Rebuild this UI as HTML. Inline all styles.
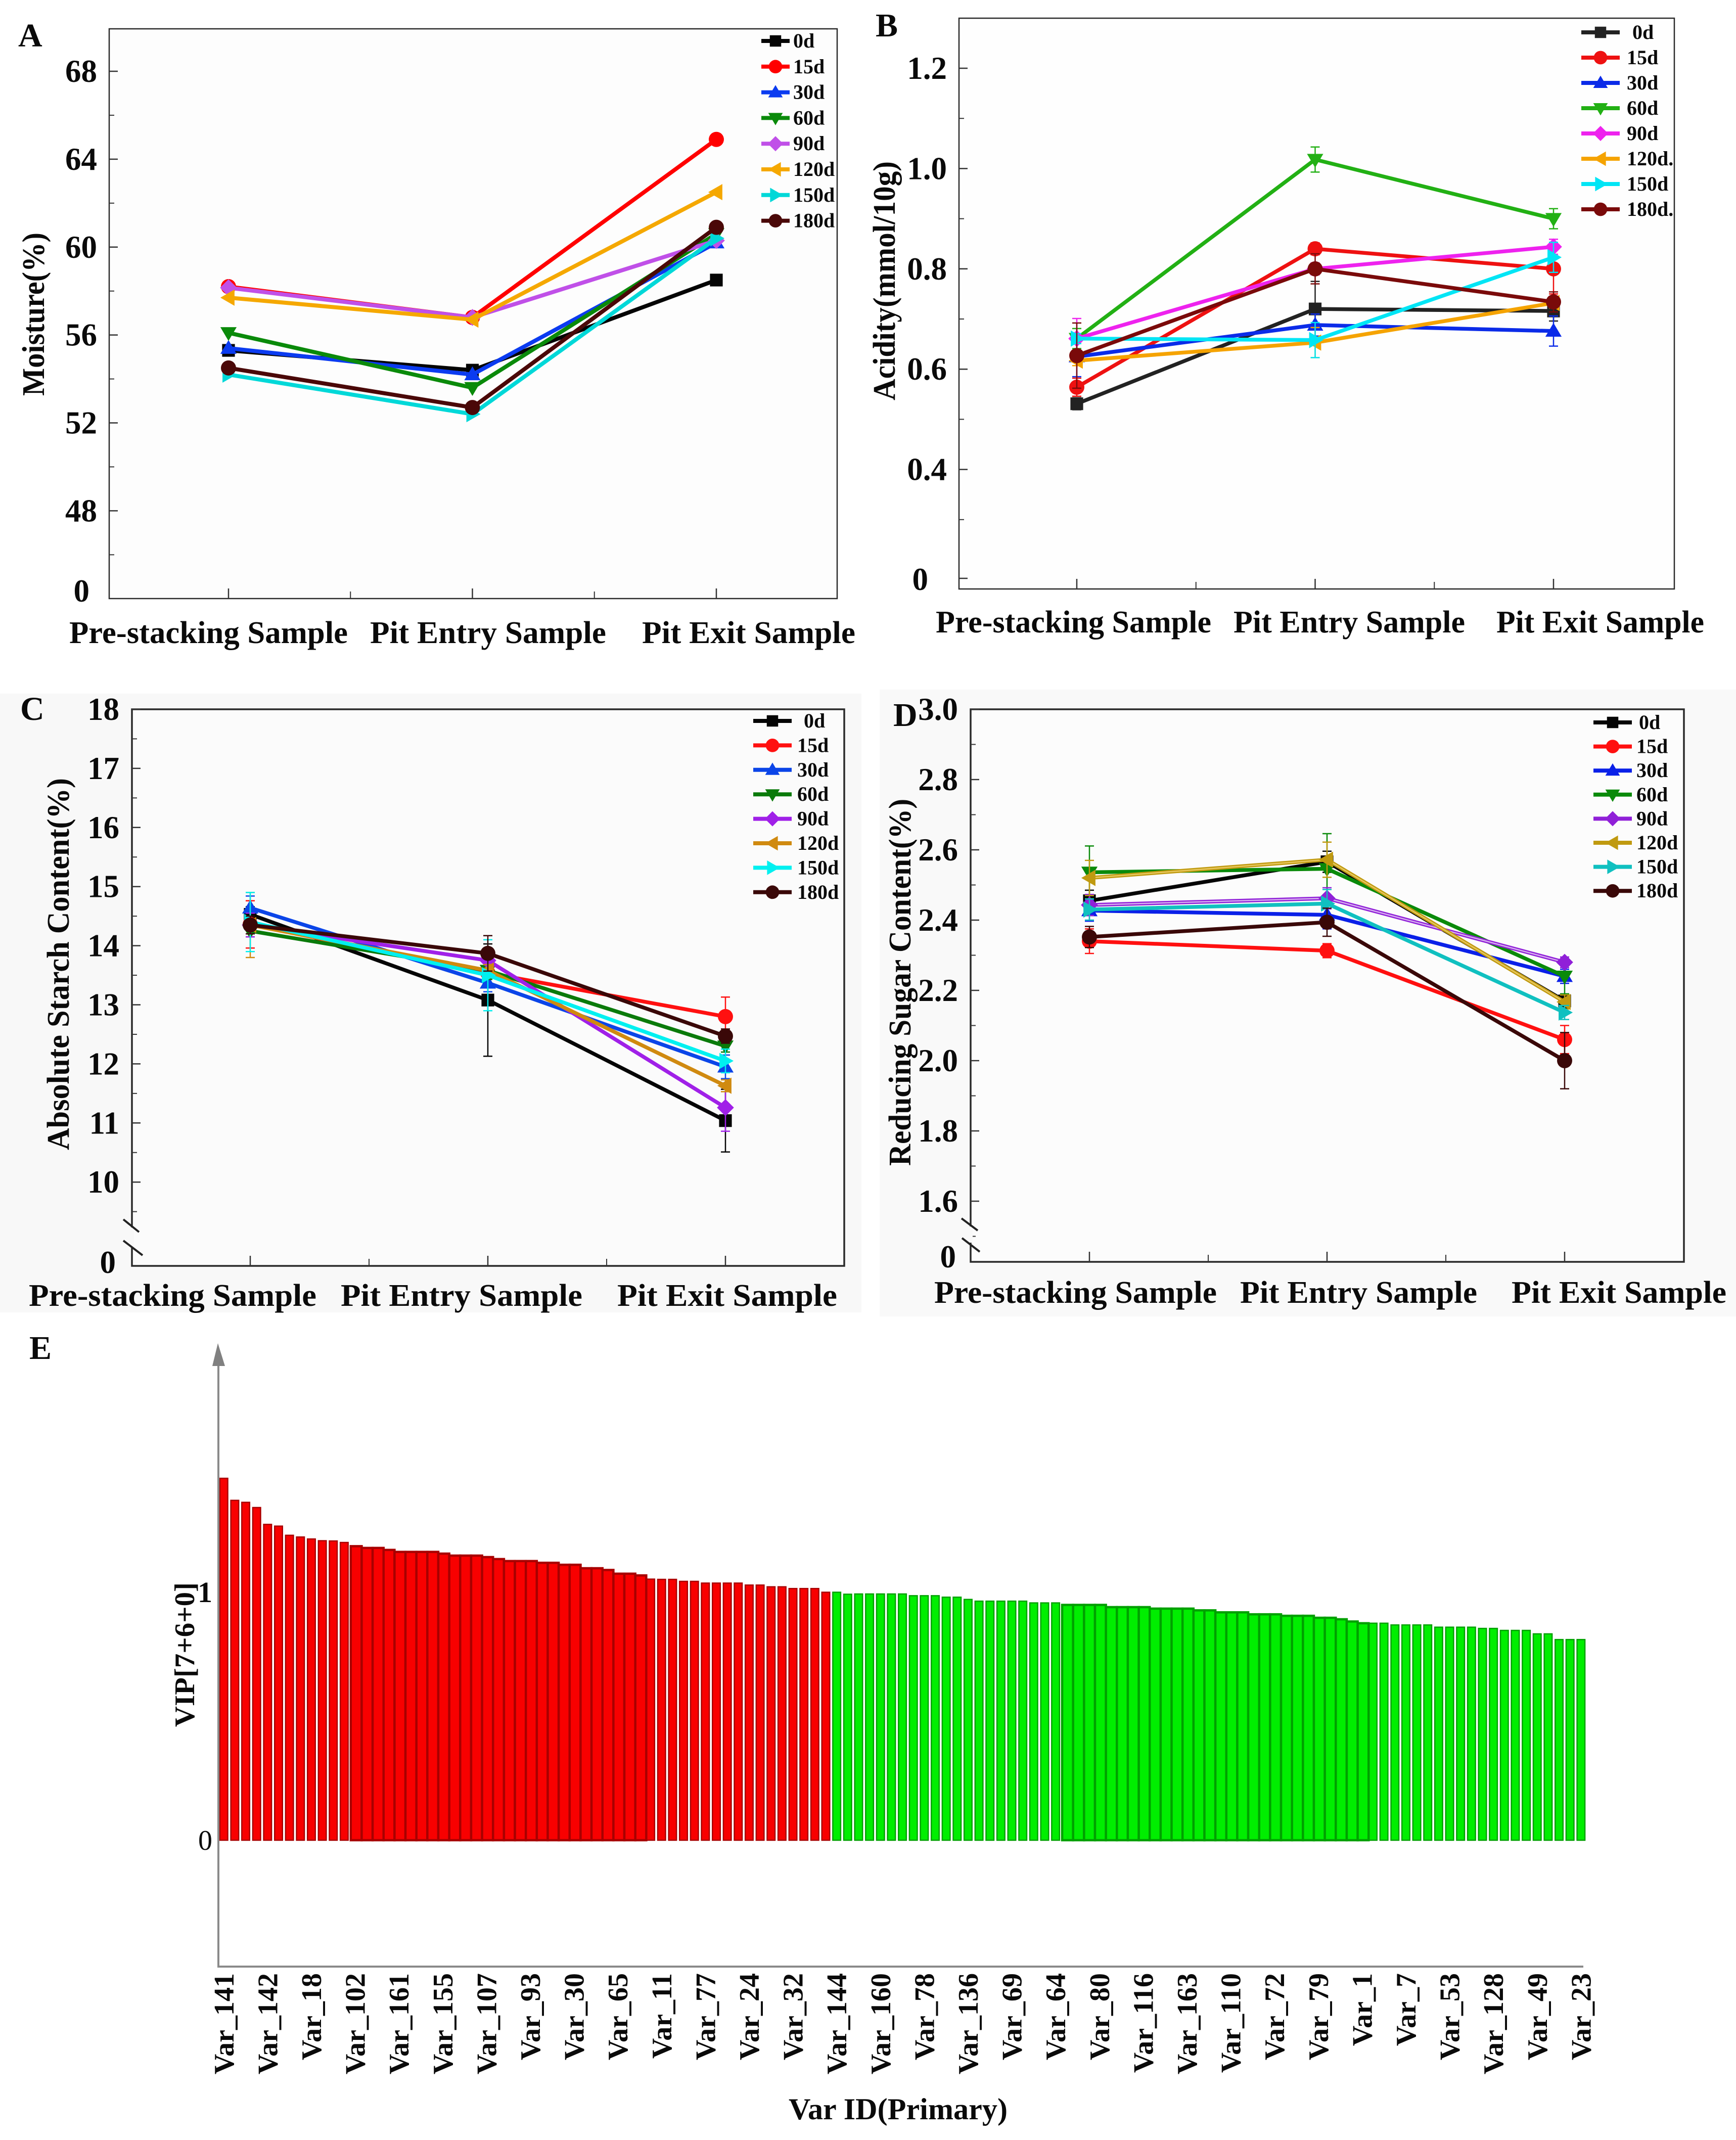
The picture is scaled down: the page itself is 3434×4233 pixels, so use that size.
<!DOCTYPE html>
<html lang="en">
<head>
<meta charset="utf-8">
<title>Fermentation physicochemical indicators and VIP chart</title>
<style>
html,body{margin:0;padding:0;background:#fff;}
svg{display:block;}
text{font-family:"Liberation Serif","DejaVu Serif",serif;font-weight:bold;fill:#0a0a0a;}
</style>
</head>
<body>
<svg id="figure" xmlns="http://www.w3.org/2000/svg" width="3434" height="4233" viewBox="0 0 3434 4233"></svg>
<script>
const categories = ["Pre-stacking Sample", "Pit Entry Sample", "Pit Exit Sample"];
const dayLabels = ["0d", "15d", "30d", "60d", "90d", "120d", "150d", "180d"];
const dayLabelsB = ["0d", "15d", "30d", "60d", "90d", "120d.", "150d", "180d."];

const moistureTicks = [48, 52, 56, 60, 64, 68];
const moistureTickLabels = ["48", "52", "56", "60", "64", "68"];
const moistureValues = [
  [55.3, 54.4, 58.5],
  [58.2, 56.8, 64.9],
  [55.4, 54.2, 60.2],
  [56.1, 53.6, 60.6],
  [58.15, 56.8, 60.3],
  [57.7, 56.7, 62.5],
  [54.2, 52.4, 60.4],
  [54.5, 52.7, 60.9]
];

const acidityTicks = [0.4, 0.6, 0.8, 1.0, 1.2];
const acidityTickLabels = ["0.4", "0.6", "0.8", "1.0", "1.2"];
const acidityValues = [
  [0.531, 0.72, 0.716],
  [0.564, 0.84, 0.80],
  [0.625, 0.688, 0.676],
  [0.661, 1.018, 0.90],
  [0.661, 0.80, 0.844],
  [0.617, 0.653, 0.732],
  [0.661, 0.658, 0.823],
  [0.627, 0.80, 0.734]
];
const acidityErrors = [
  [0.012, 0.055, 0.02],
  [0.018, 0.012, 0.05],
  [0.04, 0.022, 0.03],
  [0.02, 0.025, 0.02],
  [0.04, 0.012, 0.015],
  [0.01, 0.03, 0.01],
  [0.01, 0.035, 0.03],
  [0.065, 0.03, 0.02]
];

const starchTicks = [10, 11, 12, 13, 14, 15, 16, 17, 18];
const starchTickLabels = ["10", "11", "12", "13", "14", "15", "16", "17", "18"];
const starchValues = [
  [14.53, 13.08, 11.04],
  [14.36, 13.54, 12.8],
  [14.64, 13.37, 11.95],
  [14.25, 13.58, 12.3],
  [14.35, 13.75, 11.26],
  [14.35, 13.58, 11.63],
  [14.4, 13.5, 12.05],
  [14.35, 13.87, 12.47]
];
const starchErrors = [
  [0.13, 0.95, 0.53],
  [0.4, 0.1, 0.33],
  [0.2, 0.15, 0.2],
  [0.1, 0.15, 0.1],
  [0.2, 0.15, 0.4],
  [0.55, 0.1, 0.1],
  [0.5, 0.6, 0.2],
  [0.15, 0.3, 0.12]
];

const sugarTicks = [1.6, 1.8, 2.0, 2.2, 2.4, 2.6, 2.8, 3.0];
const sugarTickLabels = ["1.6", "1.8", "2.0", "2.2", "2.4", "2.6", "2.8", "3.0"];
const sugarValues = [
  [2.455, 2.566, 2.17],
  [2.34, 2.313, 2.06],
  [2.427, 2.415, 2.24],
  [2.536, 2.546, 2.24],
  [2.443, 2.462, 2.28],
  [2.52, 2.572, 2.167],
  [2.43, 2.447, 2.137],
  [2.352, 2.394, 2.0]
];
const sugarErrors = [
  [0.03, 0.03, 0.02],
  [0.035, 0.02, 0.04],
  [0.03, 0.04, 0.02],
  [0.075, 0.1, 0.05],
  [0.03, 0.03, 0.015],
  [0.05, 0.05, 0.02],
  [0.03, 0.04, 0.02],
  [0.03, 0.04, 0.08]
];

const vipValues = [
  1.464, 1.375, 1.367, 1.346, 1.278, 1.271, 1.234, 1.227, 1.219, 1.212, 1.211, 1.205, 1.19, 1.183, 1.183, 1.175,
  1.167, 1.167, 1.167, 1.167, 1.16, 1.152, 1.152, 1.152, 1.146, 1.138, 1.13, 1.13, 1.13, 1.123, 1.123, 1.115,
  1.115, 1.101, 1.101, 1.094, 1.079, 1.079, 1.072, 1.057, 1.056, 1.056, 1.048, 1.048, 1.041, 1.041, 1.041, 1.041,
  1.033, 1.033, 1.026, 1.026, 1.019, 1.019, 1.019, 1.004,
  1.004, 0.996, 0.997, 0.997, 0.997, 0.997, 0.997, 0.99, 0.99, 0.99, 0.984, 0.984, 0.975, 0.968, 0.968, 0.968,
  0.968, 0.968, 0.961, 0.961, 0.961, 0.953, 0.953, 0.953, 0.953, 0.944, 0.944, 0.944, 0.944, 0.938, 0.938, 0.938,
  0.938, 0.931, 0.931, 0.923, 0.923, 0.923, 0.915, 0.915, 0.915, 0.909, 0.909, 0.909, 0.901, 0.901, 0.895, 0.886,
  0.879, 0.879, 0.879, 0.872, 0.872, 0.872, 0.872, 0.863, 0.863, 0.863, 0.863, 0.858, 0.858, 0.85, 0.85, 0.85,
  0.836, 0.836, 0.813, 0.813, 0.813
];
const vipLabels = ["Var_141", "Var_142", "Var_18", "Var_102", "Var_161", "Var_155", "Var_107", "Var_93", "Var_30", "Var_65", "Var_11", "Var_77", "Var_24", "Var_32", "Var_144", "Var_160", "Var_78", "Var_136", "Var_69", "Var_64", "Var_80", "Var_116", "Var_163", "Var_110", "Var_72", "Var_79", "Var_1", "Var_7", "Var_53", "Var_128", "Var_49", "Var_23"];
const vipAboveOneCount = 56;

const SVG_NS = "http://www.w3.org/2000/svg";
const root = document.getElementById("figure");
const markerShapes = ["square", "circle", "up", "down", "diamond", "left", "right", "circle"];

function mk(parent, tag, attrs, text) {
  const node = document.createElementNS(SVG_NS, tag);
  for (const key in attrs) node.setAttribute(key, attrs[key]);
  if (text !== undefined) node.textContent = text;
  parent.appendChild(node);
  return node;
}

function drawMarker(parent, shape, cx, cy, r, color) {
  if (shape === "square") return mk(parent, "rect", {x: cx - r * 0.9, y: cy - r * 0.9, width: r * 1.8, height: r * 1.8, fill: color});
  if (shape === "circle") return mk(parent, "circle", {cx: cx, cy: cy, r: r * 1.07, fill: color});
  let pts = [];
  if (shape === "up") pts = [[0, -r * 1.15], [r * 1.15, r * 0.8], [-r * 1.15, r * 0.8]];
  if (shape === "down") pts = [[0, r * 1.15], [r * 1.15, -r * 0.8], [-r * 1.15, -r * 0.8]];
  if (shape === "left") pts = [[-r * 1.15, 0], [r * 0.85, -r * 1.15], [r * 0.85, r * 1.15]];
  if (shape === "right") pts = [[r * 1.15, 0], [-r * 0.85, -r * 1.15], [-r * 0.85, r * 1.15]];
  if (shape === "diamond") pts = [[0, -r * 1.2], [r * 1.2, 0], [0, r * 1.2], [-r * 1.2, 0]];
  return mk(parent, "polygon", {points: pts.map(p => (cx + p[0]) + "," + (cy + p[1])).join(" "), fill: color});
}

function drawPanel(p) {
  const g = mk(root, "g", {});
  
  
  const yScale = v => p.tickTopY + (p.tickTopValue - v) * p.pxPerUnit;
  const xScale = i => p.xFirst + i * p.xStep;

  if (p.panelBg) {
    const bg = mk(g, "rect", {x: p.panelBg[0], y: p.panelBg[1], width: p.panelBg[2], height: p.panelBg[3], fill: p.panelBgColor});
    
    
  }
  const frame = mk(g, "rect", {x: p.left, y: p.top, width: p.right - p.left, height: p.bottom - p.top, fill: p.plotBg, stroke: "#2a2a2a", "stroke-width": p.frameWidth});
  
  

  const letter = mk(g, "text", {x: p.letterX, y: p.letterY, "font-size": 66}, p.letter);
  
  

  p.ticks.forEach((t, i) => {
    const y = yScale(t);
    const tick = mk(g, "line", {x1: p.left, x2: p.left + 17, y1: y, y2: y, stroke: "#333", "stroke-width": 2.5});
    
    
    const label = mk(g, "text", {x: p.tickRight, y: y + 21, "font-size": 63, "text-anchor": "end"}, p.tickLabels[i]);
    
    
    const mv = t - (p.ticks[1] - p.ticks[0]) / 2;
    const my = yScale(mv);
    if (my < p.bottom - 40) {
      const minor = mk(g, "line", {x1: p.left, x2: p.left + 10, y1: my, y2: my, stroke: "#333", "stroke-width": 2});
      
      
    }
  });

  if (p.zeroTick) {
    const zt = mk(g, "line", {x1: p.left, x2: p.left + 17, y1: p.zeroTickY, y2: p.zeroTickY, stroke: "#333", "stroke-width": 2.5});
    
    
  }
  const zero = mk(g, "text", {x: p.zeroRight, y: p.zeroY + 21, "font-size": 63, "text-anchor": "end"}, "0");
  
  

  if (p.breakUpper) {
    const gap = mk(g, "rect", {x: p.left - 4, y: p.breakGap[0], width: 8, height: p.breakGap[1] - p.breakGap[0], fill: p.panelBgColor});
    
    
    const b1 = mk(g, "line", {x1: p.breakUpper[0], y1: p.breakUpper[1], x2: p.breakUpper[2], y2: p.breakUpper[3], stroke: "#222", "stroke-width": 4});
    
    
    const b2 = mk(g, "line", {x1: p.breakLower[0], y1: p.breakLower[1], x2: p.breakLower[2], y2: p.breakLower[3], stroke: "#222", "stroke-width": 4});
    
    
  }

  categories.forEach((c, i) => {
    const x = xScale(i);
    const tick = mk(g, "line", {x1: x, x2: x, y1: p.bottom - 20, y2: p.bottom, stroke: "#333", "stroke-width": 2.5});
    
    
    if (i < categories.length - 1) {
      const mx = x + p.xStep / 2;
      const minor = mk(g, "line", {x1: mx, x2: mx, y1: p.bottom - 14, y2: p.bottom, stroke: "#333", "stroke-width": 2});
      
      
    }
    const label = mk(g, "text", {x: p.catX[i][0], y: p.catY + 20, "font-size": 62, textLength: p.catX[i][1] - p.catX[i][0], lengthAdjust: "spacingAndGlyphs"}, c);
    
    
  });

  const title = mk(g, "text", {x: p.titleX, y: p.titleBottom, "font-size": 62, textLength: p.titleLen, lengthAdjust: "spacingAndGlyphs", transform: "rotate(-90 " + p.titleX + " " + p.titleBottom + ")"}, p.title);
  
  

  p.values.forEach((series, s) => {
    const sg = mk(g, "g", {});
    
    
    if (p.errors) {
      series.forEach((v, i) => {
        const e = p.errors[s][i];
        const x = xScale(i);
        const bar = mk(sg, "path", {d: "M" + (x - 9) + " " + yScale(v + e) + "H" + (x + 9) + "M" + (x - 9) + " " + yScale(v - e) + "H" + (x + 9) + "M" + x + " " + yScale(v + e) + "V" + yScale(v - e), stroke: p.colors[s], "stroke-width": 2.5, fill: "none"});
        
        
      });
    }
    const pts = series.map((v, i) => xScale(i) + "," + yScale(v)).join(" ");
    const line = mk(sg, "polyline", {points: pts, fill: "none", stroke: p.colors[s], "stroke-width": p.lineWidth, "stroke-linejoin": "round"});
    
    
    if (p.inner && p.inner[s]) {
      const innerLine = mk(sg, "polyline", {points: pts, fill: "none", stroke: p.inner[s], "stroke-width": 2.5});
      
      
    }
    series.forEach((v, i) => {
      const m = drawMarker(sg, markerShapes[s], xScale(i), yScale(v), p.markerR, p.colors[s]);
      
      
    });
  });

  p.legend.forEach((label, s) => {
    const y = p.legendY + s * p.legendStep;
    const lg = mk(g, "g", {});
    
    
    const ll = mk(lg, "line", {x1: p.legendX1, x2: p.legendX2, y1: y, y2: y, stroke: p.colors[s], "stroke-width": 8});
    
    
    const lm = drawMarker(lg, markerShapes[s], (p.legendX1 + p.legendX2) / 2, y, 12.5, p.colors[s]);
    
    
    const lt = mk(lg, "text", {x: s === 0 ? p.legendText0 : p.legendText, y: y + 13, "font-size": 40}, label);
    
    
  });
}

drawPanel({
  id: "moisture", letter: "A", letterX: 36, letterY: 92, title: "Moisture(%)",
  left: 216, right: 1656, top: 57, bottom: 1184, frameWidth: 2.5, plotBg: "#fdfdfd",
  ticks: moistureTicks, tickLabels: moistureTickLabels, values: moistureValues,
  tickTopValue: 68, tickTopY: 141, pxPerUnit: 43.47, tickRight: 192, zeroRight: 177, zeroY: 1169,
  xFirst: 452, xStep: 482.5, markerR: 14, lineWidth: 8,
  colors: ["#050505", "#ff0000", "#0b3bf0", "#0a8a0a", "#c050e8", "#f5a800", "#00d8d8", "#4a0808"],
  catX: [[137, 688], [732, 1199], [1270, 1692]], catY: 1252,
  titleX: 87, titleBottom: 783, titleLen: 323,
  legend: dayLabels, legendX1: 1506, legendX2: 1562, legendY: 81, legendStep: 50.8, legendText: 1569, legendText0: 1569
});

drawPanel({
  id: "acidity", letter: "B", letterX: 1732, letterY: 72, title: "Acidity(mmol/10g)",
  left: 1897, right: 3312, top: 36, bottom: 1165, frameWidth: 2.5, plotBg: "#fefefe",
  ticks: acidityTicks, tickLabels: acidityTickLabels, values: acidityValues, errors: acidityErrors,
  tickTopValue: 1.2, tickTopY: 135, pxPerUnit: 992, tickRight: 1873, zeroRight: 1836, zeroY: 1146, zeroTick: true, zeroTickY: 1144,
  xFirst: 2130, xStep: 471.5, markerR: 14, lineWidth: 7.5,
  colors: ["#222222", "#ee1111", "#0b2be8", "#22b014", "#ee22ee", "#f5a300", "#00e5f5", "#7a0a0a"],
  catX: [[1851, 2396], [2440, 2898], [2960, 3371]], catY: 1231,
  titleX: 1770, titleBottom: 792, titleLen: 473,
  legend: dayLabelsB, legendX1: 3128, legendX2: 3204, legendY: 64, legendStep: 50, legendText: 3218, legendText0: 3229
});

drawPanel({
  id: "starch", letter: "C", letterX: 40, letterY: 1424, title: "Absolute Starch Content(%)",
  panelBg: [0, 1372, 1704, 1224], panelBgColor: "#f8f8f8",
  left: 261, right: 1670, top: 1403, bottom: 2504, frameWidth: 3.5, plotBg: "#fbfbfb",
  ticks: starchTicks, tickLabels: starchTickLabels, values: starchValues, errors: starchErrors,
  tickTopValue: 18, tickTopY: 1403, pxPerUnit: 116.9, tickRight: 236, zeroRight: 229, zeroY: 2497,
  xFirst: 495, xStep: 470, markerR: 14, lineWidth: 7.5,
  colors: ["#050505", "#ff1010", "#0b45e8", "#0a7a0a", "#a020e8", "#d08a10", "#00f0f0", "#3a0808"],
  catX: [[57, 626], [674, 1152], [1221, 1656]], catY: 2563,
  titleX: 136, titleBottom: 2275, titleLen: 736,
  breakUpper: [244, 2412, 275, 2437], breakLower: [244, 2454, 282, 2483], breakGap: [2428, 2466],
  legend: dayLabels, legendX1: 1490, legendX2: 1566, legendY: 1426, legendStep: 48.4, legendText: 1577, legendText0: 1590
});

drawPanel({
  id: "sugar", letter: "D", letterX: 1767, letterY: 1436, title: "Reducing Sugar Content(%)",
  panelBg: [1740, 1364, 1694, 1240], panelBgColor: "#f9f9f9",
  left: 1920, right: 3331, top: 1403, bottom: 2496, frameWidth: 3.5, plotBg: "#fcfcfc",
  ticks: sugarTicks, tickLabels: sugarTickLabels, values: sugarValues, errors: sugarErrors,
  tickTopValue: 3.0, tickTopY: 1403, pxPerUnit: 695, tickRight: 1895, zeroRight: 1891, zeroY: 2486,
  xFirst: 2155, xStep: 470, markerR: 14, lineWidth: 7.5,
  colors: ["#050505", "#ff1010", "#0a20e8", "#0a8a0a", "#9020d8", "#c09a10", "#10c0c0", "#3a0808"],
  inner: [null, null, null, null, "#d8b0f0", "#e8c860", null, null],
  catX: [[1848, 2407], [2453, 2922], [2990, 3415]], catY: 2557,
  titleX: 1801, titleBottom: 2306, titleLen: 726,
  breakUpper: [1902, 2410, 1934, 2434], breakLower: [1903, 2449, 1938, 2476], breakGap: [2426, 2458],
  legend: dayLabels, legendX1: 3152, legendX2: 3228, legendY: 1429, legendStep: 47.6, legendText: 3237, legendText0: 3242
});

const vipGroup = mk(root, "g", {});


const vipBaseY = 3640;
const vipPerUnit = 490;
const vipLeft = 434;
const vipPitch = 21.65;
const vipBarWidth = 17.5;
const vipY = v => vipBaseY - v * vipPerUnit;
const vipX = i => vipLeft + i * vipPitch;
const mergedRanges = [[12, 38], [77, 104]];

vipValues.forEach((v, i) => {
  const red = i < vipAboveOneCount;
  const merged = mergedRanges.some(r => i >= r[0] && i <= r[1]);
  const bar = mk(vipGroup, "rect", {
    x: vipX(i) + (merged ? 0 : 1),
    y: vipY(v) + 1.5,
    width: merged ? vipPitch : vipBarWidth - 2,
    height: v * vipPerUnit - 1.5,
    fill: red ? "#f80000" : "#00ee00",
    stroke: red ? "#a80000" : "#00a000",
    "stroke-width": merged ? 4.5 : 2.5
  });
  
  
});

const vipAxis = mk(vipGroup, "path", {d: "M432 2700V3890H3132", fill: "none", stroke: "#8a8a8a", "stroke-width": 4});


const vipArrow = mk(vipGroup, "polygon", {points: "431,2657 420,2702 445,2702", fill: "#808080"});



const vipLetter = mk(vipGroup, "text", {x: 58, y: 2688, "font-size": 66}, "E");



const vipTickOne = mk(vipGroup, "text", {x: 420, y: vipY(1) + 19, "font-size": 58, "text-anchor": "end"}, "1");


const vipTickZero = mk(vipGroup, "text", {x: 420, y: vipY(0) + 19, "font-size": 56, "text-anchor": "end", style: "font-weight:normal"}, "0");



const vipTitle = mk(vipGroup, "text", {x: 384, y: 3416, "font-size": 56, textLength: 286, lengthAdjust: "spacingAndGlyphs", transform: "rotate(-90 384 3416)"}, "VIP[7+6+0]");



vipLabels.forEach((label, k) => {
  const x = vipX(k * 4) + vipBarWidth / 2 + 19;
  const t = mk(vipGroup, "text", {x: x, y: 3903, "font-size": 56, "text-anchor": "end", transform: "rotate(-90 " + x + " 3903)"}, label);
  
  
});

const vipXTitle = mk(vipGroup, "text", {x: 1560, y: 4192, "font-size": 60, textLength: 433, lengthAdjust: "spacingAndGlyphs"}, "Var ID(Primary)");


</script>
</body>
</html>
